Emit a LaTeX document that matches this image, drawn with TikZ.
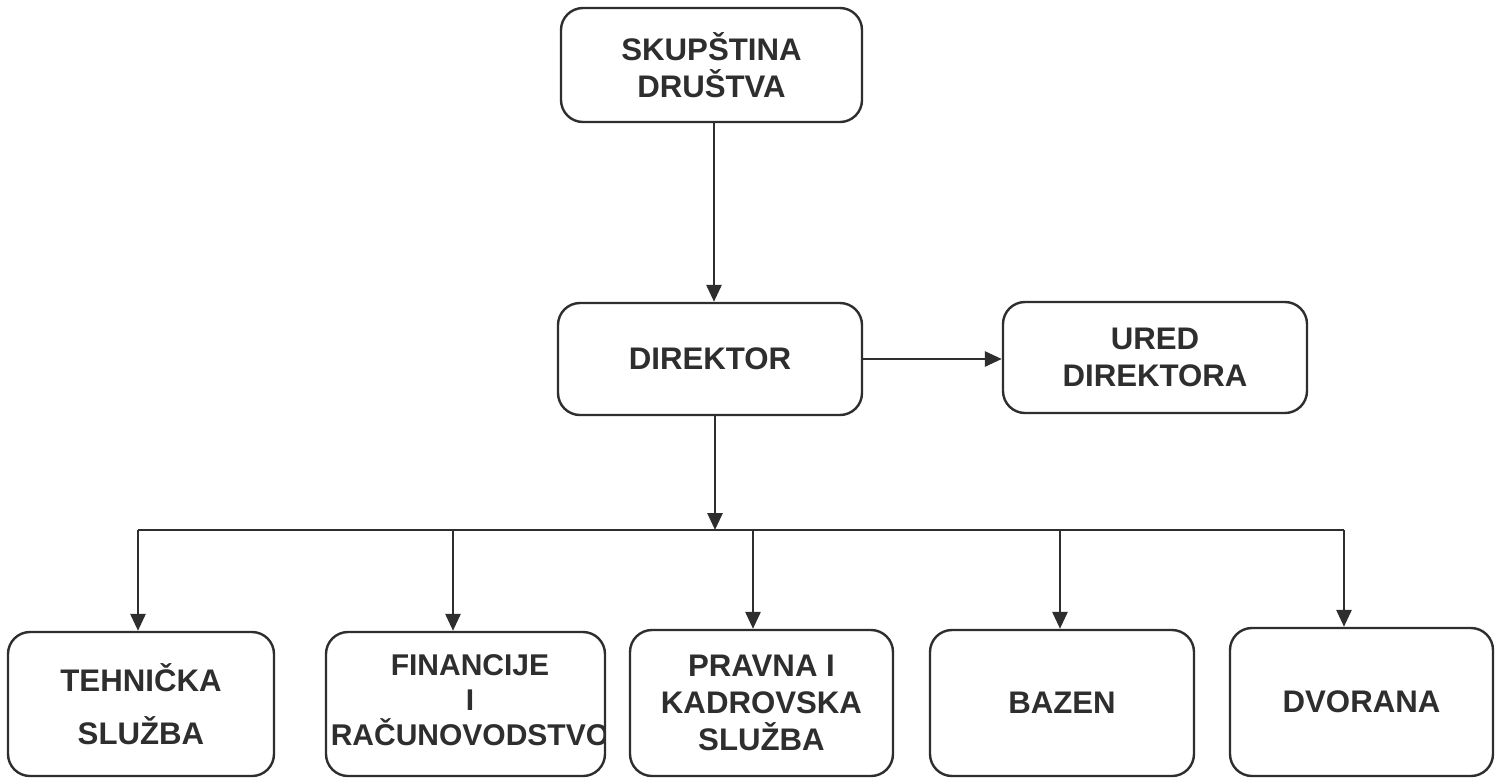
\documentclass[tikz,border=0pt]{standalone}
\usepackage{fontspec}
\setmainfont{Liberation Sans}
\usetikzlibrary{arrows.meta}
\definecolor{ink}{HTML}{2E2E2E}
\begin{document}
\begin{tikzpicture}[x=0.5pt,y=-0.5pt,
  box/.style={draw=ink, line width=1.2pt, rounded corners=11pt, inner sep=0pt},
  txt/.style={font=\bfseries\fontsize{15.6}{18.5}\selectfont, text=ink, align=center},
  conn/.style={draw=ink, line width=1.4pt},
  arr/.style={conn, -{Triangle[width=7.5pt,length=8.5pt]}}]
\useasboundingbox[fill=white] (0,0) rectangle (1501,778);

% boxes
\node[box, txt, minimum width=150.5pt, minimum height=57pt] (top) at (711.5,65) {SKUPŠTINA\\DRUŠTVA};
\node[box, txt, minimum width=152pt, minimum height=56pt] (dir) at (710,359) {DIREKTOR};
\node[box, txt, minimum width=152pt, minimum height=55.5pt] (ured) at (1155,357.5) {URED\\DIREKTORA};

\node[box, txt, minimum width=133pt, minimum height=72pt] (b1) at (141,704) {TEHNIČKA\\[8pt]SLUŽBA};
\node[box, minimum width=139.5pt, minimum height=72pt] (b2) at (465.5,704) {};
\node[box, txt, minimum width=131.5pt, minimum height=73pt] (b3) at (761.5,703) {PRAVNA I\\KADROVSKA\\SLUŽBA};
\node[box, txt, minimum width=132pt, minimum height=73pt] (b4) at (1062,703) {BAZEN};
\node[box, txt, minimum width=131.5pt, minimum height=74pt] (b5) at (1361.5,702) {DVORANA};

\begin{scope}
  \clip[rounded corners=11pt] ([shift={(1pt,-1pt)}]b2.north west) rectangle ([shift={(-1pt,1pt)}]b2.south east);
  \node[txt, font=\bfseries\fontsize{15}{17.5}\selectfont] (b2t) at (470,700) {FINANCIJE\\I\\RAČUNOVODSTVO};
\end{scope}

% connectors
\draw[arr] (top.south -| 714,0) -- (dir.north -| 714,0);
\draw[arr] (dir.east) -- (dir.east -| ured.west);

\coordinate (bus) at (715,530);
\coordinate (d1) at (138,530);
\coordinate (d2) at (453,530);
\coordinate (d3) at (753,530);
\coordinate (d4) at (1060,530);
\coordinate (d5) at (1344,530);

\draw[arr] (dir.south -| bus) -- (bus);
\draw[conn] (d1) -- (d5);
\draw[arr] (d1) -- (d1 |- b1.north);
\draw[arr] (d2) -- (d2 |- b2.north);
\draw[arr] (d3) -- (d3 |- b3.north);
\draw[arr] (d4) -- (d4 |- b4.north);
\draw[arr] (d5) -- (d5 |- b5.north);
\end{tikzpicture}
\end{document}
